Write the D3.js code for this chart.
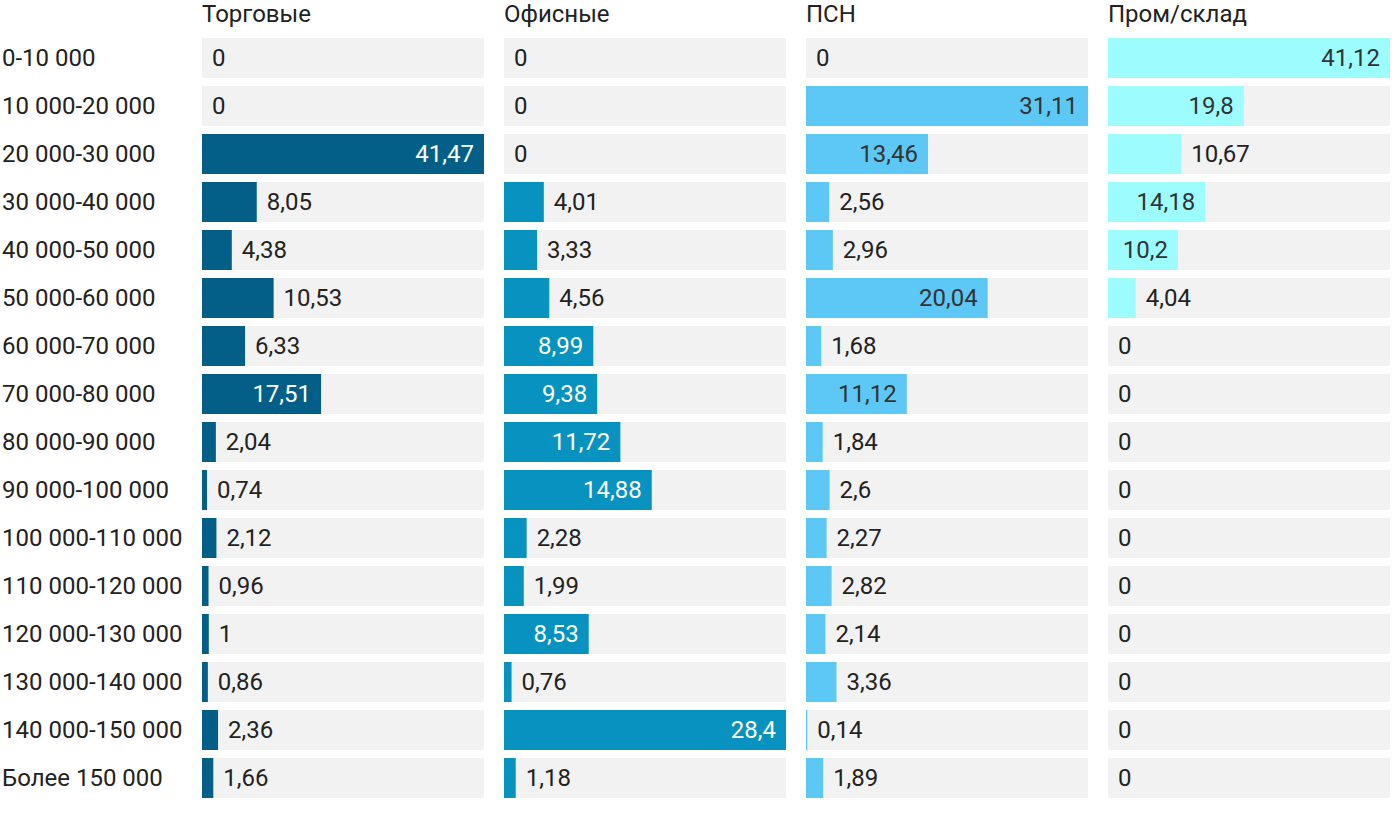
<!DOCTYPE html>
<html><head><meta charset="utf-8">
<script src="https://cdn.jsdelivr.net/npm/d3@7"></script>
<style>
html,body{margin:0;padding:0;background:#fff;}
text{font-family:Roboto,"Noto Sans",sans-serif;}
</style></head>
<body>
<svg id="chart" width="1400" height="814"></svg>
<script>
const categories = ["0-10 000","10 000-20 000","20 000-30 000","30 000-40 000","40 000-50 000","50 000-60 000","60 000-70 000","70 000-80 000","80 000-90 000","90 000-100 000","100 000-110 000","110 000-120 000","120 000-130 000","130 000-140 000","140 000-150 000","Более 150 000"];
const seriesNames = ["Торговые","Офисные","ПСН","Пром/склад"];
const trade  = [0,0,41.47,8.05,4.38,10.53,6.33,17.51,2.04,0.74,2.12,0.96,1,0.86,2.36,1.66];
const office = [0,0,0,4.01,3.33,4.56,8.99,9.38,11.72,14.88,2.28,1.99,8.53,0.76,28.4,1.18];
const psn    = [0,31.11,13.46,2.56,2.96,20.04,1.68,11.12,1.84,2.6,2.27,2.82,2.14,3.36,0.14,1.89];
const prom   = [41.12,19.8,10.67,14.18,10.2,4.04,0,0,0,0,0,0,0,0,0,0];
const series = [trade, office, psn, prom];
const colors = ["#035f88","#0792bf","#5dc8f5","#9dfdfe"];
const insideText = ["#ffffff","#ffffff","#333333","#333333"];

const svg = d3.select("#chart");
const panelStart = 202, panelW = 282, panelGap = 20;
const yb = d3.scaleBand().domain(categories).range([34, 34 + 48*16]).paddingInner(8/48).paddingOuter(4/48);
const fmt = v => String(v).replace(".", ",");
const fs = 24;

// row labels
svg.append("g").selectAll("text").data(categories).join("text")
  .attr("x", 2).attr("y", d => yb(d) + yb.bandwidth()/2)
  .attr("dominant-baseline","central")
  .attr("font-size", fs).attr("fill","#222").text(d => d);

series.forEach((vals, i) => {
  const x0 = panelStart + i*(panelW + panelGap);
  const x = d3.scaleLinear().domain([0, d3.max(vals)]).range([0, panelW]);
  const g = svg.append("g").attr("transform", `translate(${x0},0)`);
  g.append("text").attr("x", 0).attr("y", 22).attr("font-size", fs).attr("fill","#222").text(seriesNames[i]);
  const rows = g.selectAll("g.row").data(vals.map((v,k)=>({v, c:categories[k]}))).join("g").attr("class","row");
  rows.append("rect").attr("x",0).attr("y", d=>yb(d.c)).attr("width", panelW).attr("height", yb.bandwidth()).attr("fill","#f2f2f2");
  rows.append("rect").attr("x",0).attr("y", d=>yb(d.c)).attr("width", d=>x(d.v)).attr("height", yb.bandwidth()).attr("fill", colors[i]);
  rows.append("text")
    .attr("y", d=>yb(d.c)+yb.bandwidth()/2)
    .attr("dominant-baseline","central")
    .attr("font-size", fs)
    .text(d=>fmt(d.v))
    .each(function(d){
      const t = d3.select(this);
      const w = this.getComputedTextLength();
      const bw = x(d.v);
      if (bw > w + 20) {
        t.attr("x", bw - 10).attr("text-anchor","end").attr("fill", insideText[i]);
      } else {
        t.attr("x", bw + 10).attr("text-anchor","start").attr("fill", "#222");
      }
    });
});
</script>
</body></html>
